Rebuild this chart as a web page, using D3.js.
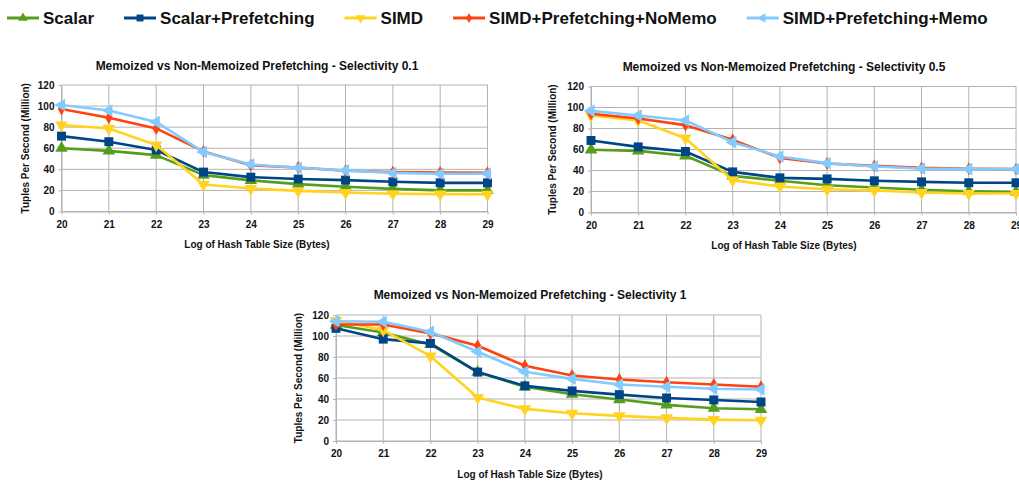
<!DOCTYPE html>
<html>
<head>
<meta charset="utf-8">
<script src="https://cdn.jsdelivr.net/npm/d3@7"></script>
<style>
  body { margin: 0; background: #fff; }
  svg { font-family: "Liberation Sans", Arial, sans-serif; font-weight: bold; }
</style>
</head>
<body>
<div id="chart"></div>
<script>
// categories: log2 of hash table size
const sizes = [20, 21, 22, 23, 24, 25, 26, 27, 28, 29];
const yTicks = [0, 20, 40, 60, 80, 100, 120];
const seriesNames = ["Scalar", "Scalar+Prefetching", "SIMD", "SIMD+Prefetching+NoMemo", "SIMD+Prefetching+Memo"];

// selectivity 0.1
const sel01Scalar   = [60, 57.5, 53.5, 34.5, 29.5, 26, 23.5, 21.5, 20, 20];
const sel01Prefetch = [71.5, 66.2, 58.3, 37.4, 32.6, 30.8, 29.8, 28.2, 27.2, 27.2];
const sel01Simd     = [82, 78.8, 63, 25.6, 21.8, 19.6, 18, 16.8, 16.5, 16.2];
const sel01NoMemo   = [97.2, 89, 78.8, 57, 43.8, 41.8, 38.6, 37.4, 37, 36.7];
const sel01Memo     = [101, 95.8, 85, 56.4, 44.6, 41.5, 39, 36.6, 35.8, 35.8];

// selectivity 0.5
const sel05Scalar   = [59.7, 58.7, 54, 34.9, 30.2, 26, 23.8, 21.6, 20.3, 19.7];
const sel05Prefetch = [68.6, 62.5, 58.1, 38.7, 33, 32, 30.2, 29.2, 28.3, 28.3];
const sel05Simd     = [92.4, 87.6, 70.8, 30.8, 24.8, 22.2, 21, 19, 18.1, 18.1];
const sel05NoMemo   = [94, 89.5, 83.2, 69.2, 52, 46.7, 44.4, 42.5, 41.6, 41.3];
const sel05Memo     = [96.8, 92.4, 87.6, 67, 53.3, 47, 43.8, 41.9, 41.3, 41.3];

// selectivity 1
const sel1Scalar    = [110.4, 103.4, 92, 65.6, 51.6, 44.6, 39.5, 34.4, 31.2, 30.2];
const sel1Prefetch  = [107.3, 97, 93, 65.6, 52.5, 47.7, 44.2, 41, 39.1, 37.2];
const sel1Simd      = [114.6, 105.7, 80.8, 41.4, 30.6, 26.4, 23.9, 22, 20.4, 19.7];
const sel1NoMemo    = [111, 111, 102.5, 90.7, 71.6, 62.4, 58.6, 56, 53.8, 51.6];
const sel1Memo      = [114, 113.6, 104, 85, 65.9, 59.2, 53.8, 51.6, 49.7, 49];

const colors = ["#579d1c", "#004586", "#ffd320", "#ff420e", "#83caff"];
const symbols = [
  { type: d3.symbolTriangle, size: 68, rot: 0 },
  { type: d3.symbolSquare, size: 80, rot: 0 },
  { type: d3.symbolTriangle, size: 68, rot: 180 },
  { type: d3.symbolDiamond, size: 48, rot: 0 },
  { type: d3.symbolTriangle, size: 68, rot: -90 }
];

const W = 1019, H = 482;
const svg = d3.select("#chart").append("svg")
  .attr("width", W).attr("height", H)
  .attr("viewBox", [0, 0, W, H]);

// legend
let lx = 7;
seriesNames.forEach((name, i) => {
  const g = svg.append("g").attr("transform", `translate(${lx},18)`);
  g.append("line").attr("x1", 0).attr("x2", 32)
    .attr("stroke", colors[i]).attr("stroke-width", 3);
  g.append("path")
    .attr("d", d3.symbol().type(symbols[i].type).size(symbols[i].size * 0.6))
    .attr("transform", `translate(16,0) rotate(${symbols[i].rot})`)
    .attr("fill", colors[i]);
  const t = g.append("text").attr("x", 36).attr("dy", "0.35em")
    .attr("font-size", 17).attr("fill", "#111").text(name);
  lx += 36 + t.node().getComputedTextLength() + 30;
});

function drawChart(cfg) {
  const { title, series, left, right, top, bottom, titleX, titleY, yTitleX } = cfg;
  const x = d3.scalePoint().domain(sizes).range([left, right]);
  const y = d3.scaleLinear().domain([0, 120]).range([bottom, top]);
  const g = svg.append("g");

  // grid
  g.append("g").selectAll("line.h").data(yTicks).join("line")
    .attr("x1", left).attr("x2", right)
    .attr("y1", d => y(d)).attr("y2", d => y(d))
    .attr("stroke", "#b3b3b3").attr("stroke-width", 1);
  g.append("g").selectAll("line.v").data(sizes).join("line")
    .attr("x1", d => x(d)).attr("x2", d => x(d))
    .attr("y1", top).attr("y2", bottom)
    .attr("stroke", "#b3b3b3").attr("stroke-width", 1);

  const ax = g.append("g").attr("transform", `translate(0,${bottom})`)
    .call(d3.axisBottom(x).tickSizeInner(3).tickSizeOuter(0).tickPadding(6));
  const ay = g.append("g").attr("transform", `translate(${left},0)`)
    .call(d3.axisLeft(y).tickValues(yTicks).tickSizeInner(3).tickSizeOuter(0).tickPadding(4));
  [ax, ay].forEach(a => {
    a.select(".domain").attr("stroke", "#b3b3b3");
    a.selectAll(".tick line").attr("stroke", "#b3b3b3");
    a.selectAll("text").attr("font-size", 10).attr("font-weight", "bold")
      .attr("font-family", "Liberation Sans, Arial, sans-serif").attr("fill", "#111");
  });

  // lines + markers
  const line = d3.line().x((d, i) => x(sizes[i])).y(d => y(d));
  series.forEach((vals, i) => {
    const sg = g.append("g");
    sg.append("path").datum(vals).attr("d", line)
      .attr("fill", "none").attr("stroke", colors[i]).attr("stroke-width", 2.6)
      .attr("stroke-linejoin", "round");
    sg.selectAll("path.m").data(vals).join("path").attr("class", "m")
      .attr("d", d3.symbol().type(symbols[i].type).size(symbols[i].size))
      .attr("transform", (d, j) => `translate(${x(sizes[j])},${y(d)}) rotate(${symbols[i].rot})`)
      .attr("fill", colors[i]);
  });

  // titles
  g.append("text").attr("x", titleX).attr("y", titleY).attr("dy", "0.35em")
    .attr("text-anchor", "middle").attr("font-size", 12).attr("fill", "#111").text(title);
  g.append("text").attr("x", titleX).attr("y", bottom + 33).attr("dy", "0.35em")
    .attr("text-anchor", "middle").attr("font-size", 10).attr("fill", "#111")
    .text("Log of Hash Table Size (Bytes)");
  g.append("text")
    .attr("transform", `translate(${yTitleX},${(top + bottom) / 2}) rotate(-90)`)
    .attr("dy", "0.35em").attr("text-anchor", "middle").attr("font-size", 10).attr("fill", "#111")
    .text("Tuples Per Second (Million)");
}

drawChart({
  title: "Memoized vs Non-Memoized Prefetching - Selectivity 0.1",
  series: [sel01Scalar, sel01Prefetch, sel01Simd, sel01NoMemo, sel01Memo],
  left: 61.5, right: 487.5, top: 85, bottom: 211.5, titleX: 257, titleY: 66, yTitleX: 25
});
drawChart({
  title: "Memoized vs Non-Memoized Prefetching - Selectivity 0.5",
  series: [sel05Scalar, sel05Prefetch, sel05Simd, sel05NoMemo, sel05Memo],
  left: 591, right: 1016, top: 86.5, bottom: 212.5, titleX: 784, titleY: 67, yTitleX: 552
});
drawChart({
  title: "Memoized vs Non-Memoized Prefetching - Selectivity 1",
  series: [sel1Scalar, sel1Prefetch, sel1Simd, sel1NoMemo, sel1Memo],
  left: 336, right: 761, top: 315, bottom: 441, titleX: 530, titleY: 295, yTitleX: 298
});
</script>
</body>
</html>
